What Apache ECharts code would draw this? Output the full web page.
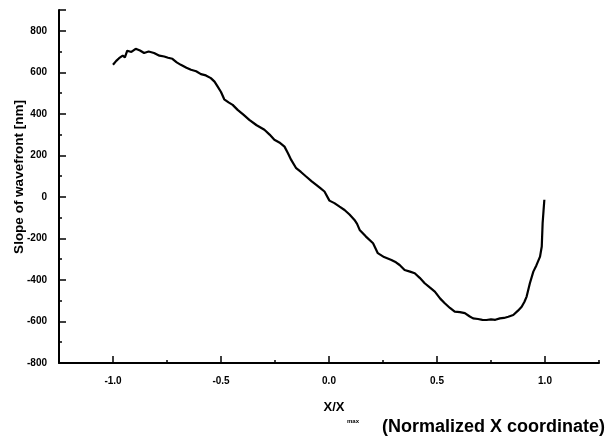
<!DOCTYPE html>
<html>
<head>
<meta charset="utf-8">
<script src="https://cdn.jsdelivr.net/npm/echarts@6/dist/echarts.min.js"></script>
<style>
html,body{margin:0;padding:0;background:#fff;}
#c{width:615px;height:437px;}
</style>
</head>
<body>
<div id="c"></div>
<script>
// Normalized X coordinate (X/Xmax)
var xValues = [-1.0, -0.985, -0.972, -0.955, -0.945, -0.934, -0.915, -0.895, -0.875, -0.856, -0.835,
  -0.81, -0.785, -0.763, -0.745, -0.725, -0.705, -0.686, -0.66, -0.639, -0.615,
  -0.593, -0.57, -0.547, -0.53, -0.516, -0.5, -0.485, -0.465, -0.446, -0.423,
  -0.395, -0.369, -0.335, -0.299, -0.275, -0.253, -0.23, -0.206, -0.19, -0.175,
  -0.152, -0.13, -0.106, -0.08, -0.059, -0.04, -0.021, 0.002, 0.025, 0.049,
  0.072, 0.095, 0.118, 0.13, 0.142, 0.17, 0.204, 0.226, 0.255, 0.289,
  0.31, 0.327, 0.35, 0.375, 0.397, 0.42, 0.443, 0.465, 0.49, 0.515,
  0.536, 0.56, 0.582, 0.606, 0.629, 0.65, 0.667, 0.69, 0.71, 0.729,
  0.75, 0.77, 0.791, 0.81, 0.83, 0.853, 0.875, 0.892, 0.905, 0.915,
  0.93, 0.946, 0.96, 0.977, 0.985, 0.989, 0.993, 0.997];
// Slope of wavefront [nm]
var slopeValues = [636, 655, 668, 680, 672, 704, 698, 713, 705, 693, 700,
  693, 680, 676, 670, 665, 648, 636, 622, 612, 605,
  591, 585, 572, 555, 532, 505, 470, 455, 443, 419,
  395, 371, 345, 323, 300, 275, 262, 242, 210, 178,
  138, 120, 98, 75, 58, 42, 26, -18, -30, -47,
  -63, -85, -111, -130, -159, -190, -223, -271, -290, -304,
  -315, -328, -352, -360, -368, -390, -416, -435, -456, -490,
  -512, -535, -553, -555, -560, -575, -585, -588, -592, -593,
  -590, -592, -585, -583, -577, -569, -548, -529, -505, -480,
  -416, -360, -330, -288, -239, -127, -70, -14];

var xMin = -1.25, xMax = 1.25;
var yMin = -800, yMax = 900;
var xLabelMin = -1.0, xLabelMax = 1.0;

var seriesData = xValues.map(function (x, i) { return [x, slopeValues[i]]; });

var chart = echarts.init(document.getElementById('c'), null, {renderer: 'canvas'});
var labelFont = {color: '#000', fontFamily: 'Liberation Sans', fontWeight: 'bold', fontSize: 10};

chart.setOption({
  animation: false,
  backgroundColor: '#fff',
  grid: [
    {left: 59, right: 16, top: 10, bottom: 74},
    {left: 113, right: 70, top: 10, bottom: 74}
  ],
  xAxis: [
    {
      type: 'value', gridIndex: 0, min: xMin, max: xMax, interval: 0.25,
      axisLine: {show: true, onZero: false, lineStyle: {color: '#000', width: 2}},
      axisTick: {show: true, inside: true, length: 3, lineStyle: {color: '#000', width: 1.5}},
      axisLabel: {show: false},
      splitLine: {show: false}
    },
    {
      type: 'value', gridIndex: 1, min: xLabelMin, max: xLabelMax, interval: 0.5,
      axisLine: {show: false, onZero: false},
      axisTick: {show: true, inside: true, length: 7, lineStyle: {color: '#000', width: 1.5}},
      axisLabel: Object.assign({margin: 13, formatter: function (v) { return v.toFixed(1); }}, labelFont),
      splitLine: {show: false}
    }
  ],
  yAxis: [
    {
      type: 'value', gridIndex: 0, min: yMin, max: yMax, interval: 200,
      axisLine: {show: true, onZero: false, lineStyle: {color: '#000', width: 2}},
      axisTick: {show: true, inside: true, length: 7, lineStyle: {color: '#000', width: 1.5}},
      minorTick: {show: true, splitNumber: 2, length: 3, lineStyle: {color: '#000', width: 1.5}},
      axisLabel: Object.assign({margin: 12, showMaxLabel: false, padding: [6, 0, 0, 0]}, labelFont),
      splitLine: {show: false},
      minorSplitLine: {show: false}
    },
    {
      type: 'value', gridIndex: 1, min: yMin, max: yMax, show: false,
      axisLine: {onZero: false}
    }
  ],
  series: [{
    type: 'line',
    xAxisIndex: 0, yAxisIndex: 0,
    data: seriesData,
    showSymbol: false,
    symbol: 'none',
    lineStyle: {color: '#000', width: 2.2},
    silent: true
  }],
  graphic: [
    {
      type: 'text', x: 19, y: 177, rotation: Math.PI / 2,
      style: {text: 'Slope of wavefront [nm]', font: 'bold 13.5px "Liberation Sans"', fill: '#000', align: 'center', verticalAlign: 'middle'}
    },
    {
      type: 'text', x: 334, y: 407,
      style: {text: 'X/X', font: 'bold 13px "Liberation Sans"', fill: '#000', align: 'center', verticalAlign: 'middle'}
    },
    {
      type: 'text', x: 353, y: 421,
      style: {text: 'max', font: 'bold 6px "Liberation Sans"', fill: '#000', align: 'center', verticalAlign: 'middle'}
    },
    {
      type: 'text', x: 605, y: 427,
      style: {text: '(Normalized X coordinate)', font: 'bold 18px "Liberation Sans"', fill: '#000', align: 'right', verticalAlign: 'middle'}
    }
  ]
});
</script>
</body>
</html>
